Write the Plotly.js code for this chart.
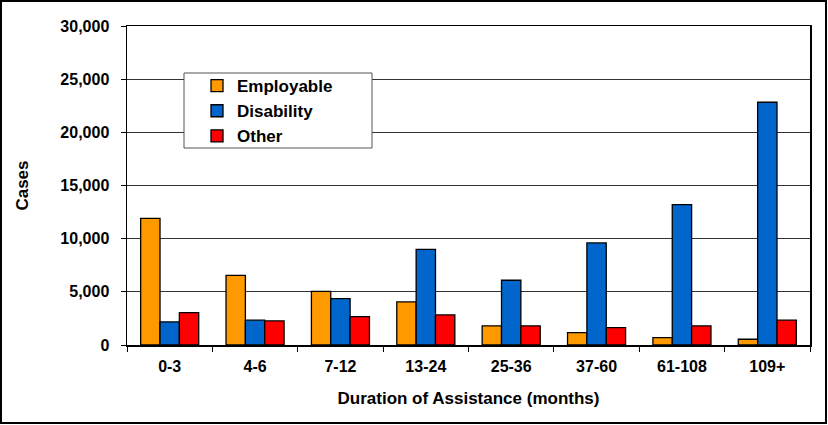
<!DOCTYPE html>
<html>
<head>
<meta charset="utf-8">
<script src="https://cdn.plot.ly/plotly-3.0.1.min.js"></script>
<style>html,body{margin:0;padding:0;background:#fff;}#chart{width:828px;height:425px;}</style>
</head>
<body>
<div id="chart"></div>
<script>
const categories = ["0-3", "4-6", "7-12", "13-24", "25-36", "37-60", "61-108", "109+"];
const employable = [11900, 6550, 5050, 4050, 1800, 1170, 700, 540];
const disability = [2170, 2330, 4370, 9000, 6090, 9600, 13200, 22830];
const other = [3040, 2270, 2660, 2830, 1800, 1640, 1800, 2330];
const yTickVals = [0, 5000, 10000, 15000, 20000, 25000, 30000];
const yTickText = ["0", "5,000", "10,000", "15,000", "20,000", "25,000", "30,000"];

const fam = "Liberation Sans, Arial, sans-serif";
const line = {color: "#000", width: 1.3};

const traces = [
  {type: "bar", name: "<b>Employable</b>", x: categories, y: employable, marker: {color: "#FF9900", line: line}},
  {type: "bar", name: "<b>Disability</b>", x: categories, y: disability, marker: {color: "#0066CC", line: line}},
  {type: "bar", name: "<b>Other</b>", x: categories, y: other, marker: {color: "#FF0000", line: line}}
];

const layout = {
  width: 828, height: 425,
  margin: {l: 127, r: 18, t: 26, b: 80},
  paper_bgcolor: "#fff", plot_bgcolor: "#fff",
  font: {family: fam, size: 16, color: "#000"},
  barmode: "group",
  bargap: 0.32, bargroupgap: 0,
  showlegend: true,
  legend: {x: 0.1025, y: 0.868, xanchor: "left", yanchor: "top", bgcolor: "rgba(0,0,0,0)", borderwidth: 0,
           font: {family: fam, size: 17, color: "#000"}, traceorder: "normal"},
  xaxis: {
    type: "category",
    showline: true, linecolor: "#000", linewidth: 1.5, mirror: true,
    ticks: "outside", tickson: "boundaries", ticklen: 5, tickcolor: "#000", tickwidth: 1,
    tickfont: {family: fam, size: 16, color: "#000"}, ticklabelstandoff: 6,
    tickvals: categories, ticktext: categories.map(c => "<b>" + c + "</b>"),
    title: {text: "<b>Duration of Assistance (months)</b>", font: {family: fam, size: 17, color: "#000"}, standoff: 18},
    showgrid: false, zeroline: false
  },
  yaxis: {
    range: [0, 30000],
    tickvals: yTickVals, ticktext: yTickText.map(t => "<b>" + t + "</b>"),
    tickfont: {family: fam, size: 16, color: "#000"},
    showline: true, linecolor: "#000", linewidth: 1.5, mirror: true,
    ticks: "outside", ticklen: 5, tickcolor: "#000", ticklabelstandoff: 8,
    showgrid: true, gridcolor: "#333", gridwidth: 1,
    zeroline: false,
    title: {text: "<b>Cases</b>", font: {family: fam, size: 17, color: "#000"}, standoff: 27}
  },
  shapes: [
    {type: "rect", xref: "paper", yref: "paper", x0: 57/683, x1: 245/683, y0: (345-148)/319, y1: (345-73)/319,
     fillcolor: "#fff", line: {color: "#555", width: 1}, layer: "above"},
    {type: "rect", xref: "paper", yref: "paper", x0: -126/683, x1: 699/683, y0: -78/319, y1: 344/319,
     fillcolor: "rgba(0,0,0,0)", line: {color: "#000", width: 2}, layer: "above"}
  ]
};

Plotly.newPlot("chart", traces, layout, {staticPlot: true, displayModeBar: false});
</script>
</body>
</html>
